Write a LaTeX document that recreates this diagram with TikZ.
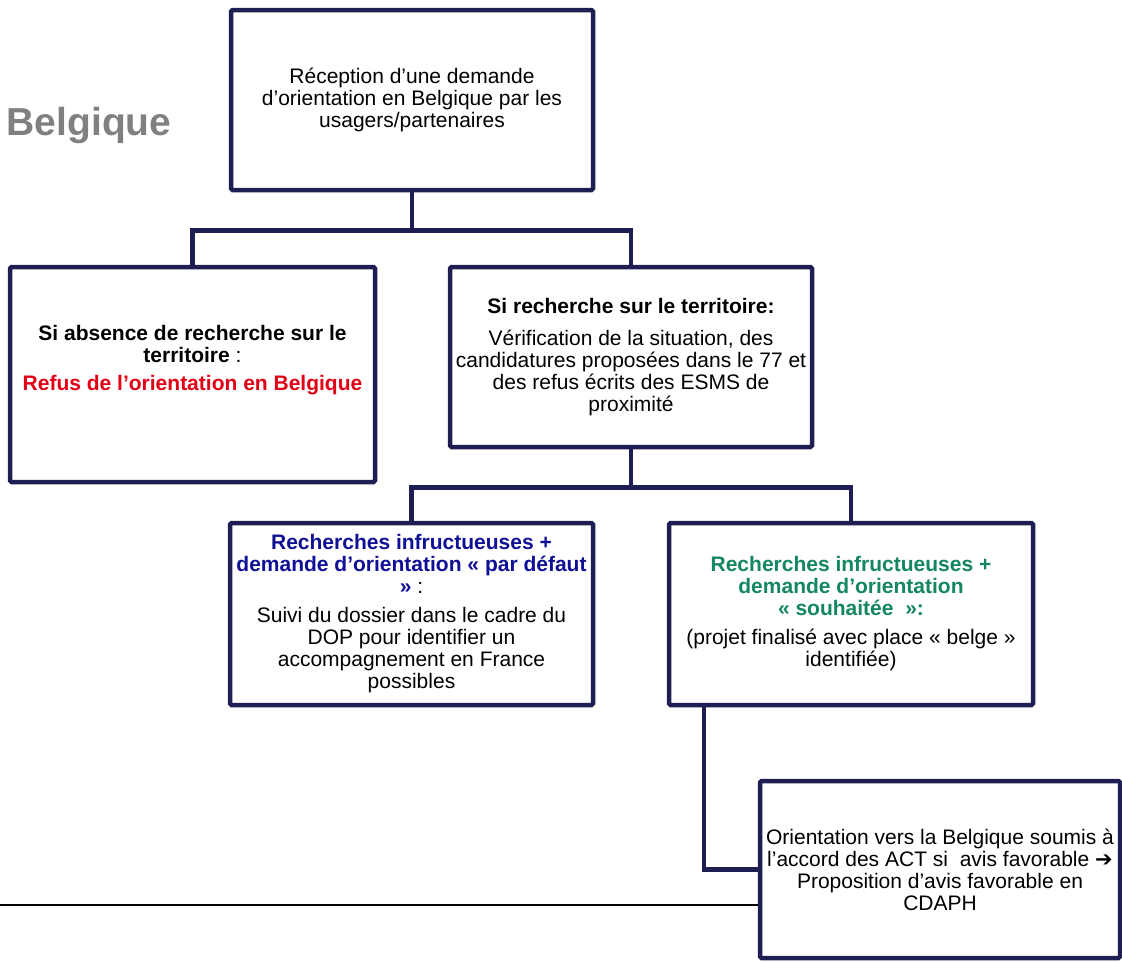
\documentclass[tikz,border=0pt]{standalone}
\usepackage{fontspec}
\setmainfont{Liberation Sans}
\newfontfamily\symbfont{DejaVu Sans}
\usetikzlibrary{positioning}
\definecolor{cadre}{RGB}{31,30,82}
\definecolor{bleufonce}{RGB}{16,16,150}
\definecolor{vertmdph}{RGB}{20,135,95}
\definecolor{rougerefus}{RGB}{228,0,20}
\definecolor{grisbelg}{RGB}{128,128,128}

\begin{document}
\begin{tikzpicture}[x=1pt,y=-1pt,
		etape/.style={draw=cadre, line width=4.5pt, rounded corners=1.5pt, fill=white, inner sep=0pt,
			align=center, font=\fontsize{21}{22}\selectfont, minimum width=362pt, minimum height=180pt},
		lien/.style={draw=cadre, line width=4.5pt}]
		\useasboundingbox (0,0) rectangle (1122,962);
		\node[font=\bfseries\fontsize{39}{40}\selectfont, text=grisbelg, anchor=base] (titre) at (89,135) {Belgique};
		\node[etape] (recep) at (412,100) {Réception d’une demande\\d’orientation en Belgique par les\\usagers/partenaires};
		\node[etape, minimum width=365pt, minimum height=215pt] (absence) at (192.5,374.5)
			{\textbf{Si absence de recherche sur le}\\\textbf{territoire} :\\[6pt]\textcolor{rougerefus}{\textbf{Refus de l’orientation en Belgique}}\\[12pt]\mbox{}};
		\node[etape] (recherche) at (631,357)
			{\textbf{Si recherche sur le territoire:}\\[10pt]Vérification de la situation, des\\candidatures proposées dans le 77 et\\des refus écrits des ESMS de\\proximité};
		\node[etape, minimum width=363pt, minimum height=182pt] (defaut) at (411.5,614)
			{\textcolor{bleufonce}{\textbf{Recherches infructueuses +}}\\\textcolor{bleufonce}{\textbf{demande d’orientation « par défaut}}\\\textcolor{bleufonce}{\textbf{»}} :\\[7pt]Suivi du dossier dans le cadre du\\DOP pour identifier un\\accompagnement en France\\possibles};
		\node[etape, minimum width=364pt, minimum height=182pt] (souhait) at (851,614)
			{\textcolor{vertmdph}{\textbf{Recherches infructueuses +}}\\\textcolor{vertmdph}{\textbf{demande d’orientation}}\\\textcolor{vertmdph}{\textbf{« souhaitée\ \ »:}}\\[7pt](projet finalisé avec place « belge »\\identifiée)};
		\node[etape, minimum width=360pt, minimum height=177pt] (accord) at (940,869.5)
			{Orientation vers la Belgique soumis à\\l’accord des ACT si\ \ avis favorable {\symbfont ➔}\\Proposition d’avis favorable en\\CDAPH};
		% liaisons
		\draw[lien] (recep.south) -- ++(0,38) coordinate (bus1) -| (absence.north);
		\draw[lien] (bus1) -| (recherche.north);
		\draw[lien] (recherche.south) -- ++(0,38) coordinate (bus2) -| (defaut.north);
		\draw[lien] (bus2) -| (souhait.north);
		\draw[lien] ([xshift=37pt]souhait.south west) |- (accord.west);
		\coordinate (bord) at (0,905);
		\draw[line width=2pt] (bord) -- (bord -| accord.west);
	\end{tikzpicture}
\end{document}
